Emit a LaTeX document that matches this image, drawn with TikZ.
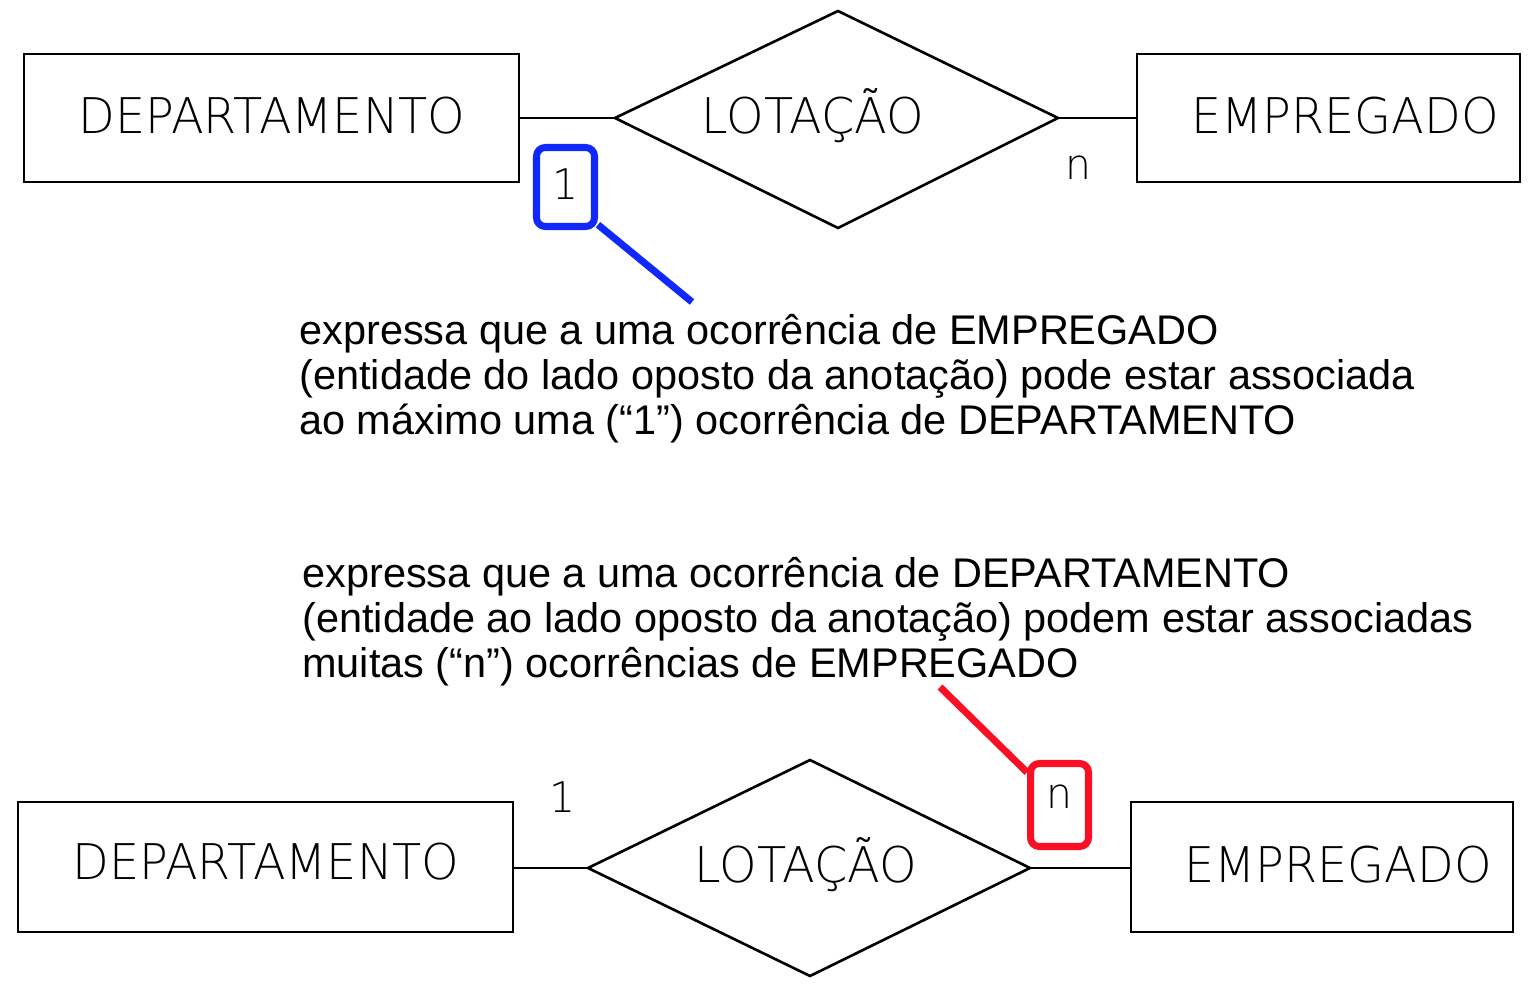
\documentclass[tikz,border=0pt]{standalone}
\usepackage{fontspec}
\setmainfont{Liberation Sans}
\newfontfamily\erfont[FakeStretch=0.97]{DejaVuSans-ExtraLight.ttf}
\definecolor{hlblue}{RGB}{16,40,250}
\definecolor{hlred}{RGB}{250,16,36}
\begin{document}
\begin{tikzpicture}[x=0.02cm,y=-0.02cm,
  ent/.style={draw, line width=1.6pt, inner sep=0},
  lnk/.style={line width=1.5pt},
  erlab/.style={font=\erfont\fontsize{28}{30}\selectfont, inner sep=0},
  card/.style={font=\erfont\fontsize{24}{26}\selectfont, inner sep=0},
  expl/.style={font=\fontsize{23.6}{27}\selectfont, anchor=base west, inner sep=0},
  hl/.style={line width=4pt, rounded corners=5pt, inner sep=0, minimum width=1.16cm, minimum height=1.58cm}]
\useasboundingbox (0,0) rectangle (1532,986);
% ---------- top diagram ----------
\node[ent, minimum width=9.9cm, minimum height=2.56cm] (d1) at (271.5,118) {};
\node[ent, minimum width=7.66cm, minimum height=2.56cm] (e1) at (1328.5,118) {};
\coordinate (r1L) at (615,118);
\coordinate (r1T) at (838,11);
\coordinate (r1R) at (1058,118);
\coordinate (r1B) at (838,228);
\draw[lnk, line join=miter] (r1L) -- (r1T) -- (r1R) -- (r1B) -- cycle;
\draw[lnk] (d1.east) -- (r1L);
\draw[lnk] (r1R) -- (e1.west);
\node[erlab] (d1t) at (272,116) {DEPARTAMENTO};
\node[erlab] (r1t) at (813,116) {LOTAÇÃO};
\node[erlab] (e1t) at (1345,116) {EMPREGADO};
\node[hl, draw=hlblue] (one) at (565.5,187) {};
\node[card] (onet) at (566,184) {1};
\node[card] (n1) at (1078,168) {n};
\coordinate (bl) at (692,302);
\draw[hlblue, line width=4pt] ([yshift=3pt]one.south east) -- (bl);
% ---------- explanation texts ----------
\node[expl] (t1a) at (299,345) {expressa que a uma ocorrência de EMPREGADO};
\node[expl] (t1b) at (299,390) {(entidade do lado oposto da anotação) pode estar associada};
\node[expl] (t1c) at (299,435) {ao máximo uma (“1”) ocorrência de DEPARTAMENTO};
\node[expl] (t2a) at (302,587) {expressa que a uma ocorrência de DEPARTAMENTO};
\node[expl] (t2b) at (302,632) {(entidade ao lado oposto da anotação) podem estar associadas};
\node[expl] (t2c) at (302,677) {muitas (“n”) ocorrências de EMPREGADO};
% ---------- bottom diagram ----------
\node[ent, minimum width=9.9cm, minimum height=2.6cm] (d2) at (265.5,867) {};
\node[ent, minimum width=7.64cm, minimum height=2.6cm] (e2) at (1322,867) {};
\coordinate (r2L) at (588,868);
\coordinate (r2T) at (810,760);
\coordinate (r2R) at (1030,868);
\coordinate (r2B) at (810,976);
\draw[lnk, line join=miter] (r2L) -- (r2T) -- (r2R) -- (r2B) -- cycle;
\draw[lnk] (d2.east |- r2L) -- (r2L);
\draw[lnk] (r2R) -- (e2.west |- r2R);
\node[erlab] (d2t) at (266,862) {DEPARTAMENTO};
\node[erlab] (r2t) at (806,865) {LOTAÇÃO};
\node[erlab] (e2t) at (1338,865) {EMPREGADO};
\node[card] (one2) at (563,797) {1};
\node[hl, draw=hlred, minimum height=1.66cm] (nbox) at (1059.5,805) {};
\node[card] (n2) at (1059,797) {n};
\coordinate (rl) at (940,687);
\draw[hlred, line width=4pt] ([yshift=-7pt]nbox.north west) -- (rl);
\end{tikzpicture}
\end{document}
